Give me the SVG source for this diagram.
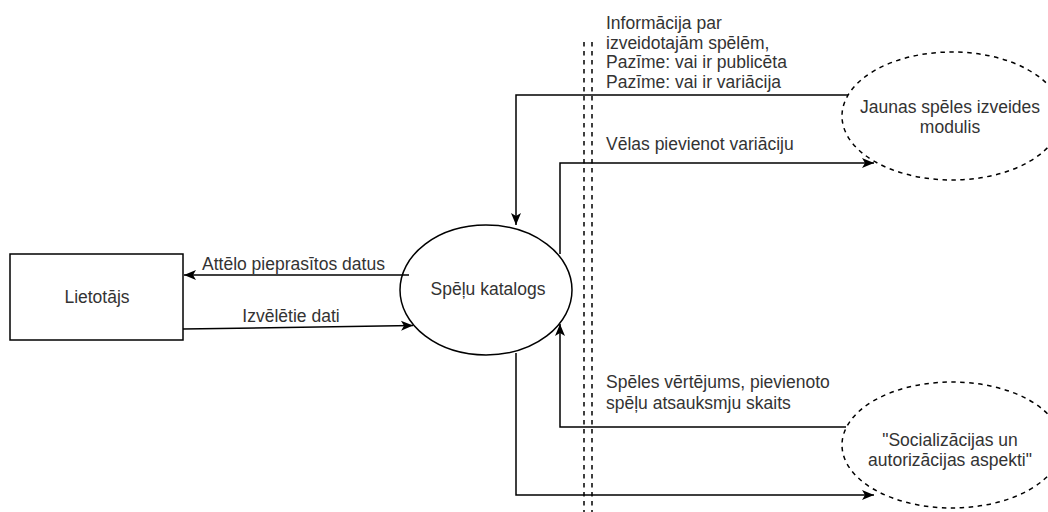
<svg xmlns="http://www.w3.org/2000/svg" width="1048" height="512" viewBox="0 0 1048 512">
<style>
.t{font-family:"Liberation Sans",Arial,sans-serif;font-size:17.5px;fill:#333}
.c{text-anchor:middle}
.n{fill:#fff;stroke:#000;stroke-width:1.5}
.d{stroke-dasharray:4.5 4.5}
.e{fill:none;stroke:#000;stroke-width:1.5}
.v{fill:none;stroke:#000;stroke-width:1.5;stroke-dasharray:4.5 4.5}
</style>
<defs>
<marker id="a" markerUnits="userSpaceOnUse" markerWidth="14" markerHeight="14" viewBox="0 0 14 14" refX="13" refY="7" orient="auto">
<path d="M1,2 L13,7 L1,12 L4,7 Z" fill="#000"/>
</marker>
</defs>
<rect width="1048" height="512" fill="#fff"/>
<g id="boundary">
<line class="v" x1="584" y1="42" x2="584" y2="512"/>
<line class="v" x1="592" y1="42" x2="592" y2="512"/>
</g>
<g id="n-lietotajs">
<rect class="n" x="10" y="254" width="173" height="86"/>
<text class="t c" x="97" y="303">Lietotājs</text>
</g>
<g id="n-katalogs">
<ellipse class="n" cx="486" cy="290" rx="86" ry="65"/>
<text class="t c" x="488" y="295">Spēļu katalogs</text>
</g>
<g id="n-jaunas">
<ellipse class="n d" cx="952" cy="116" rx="110" ry="64"/>
<text class="t c" x="950" y="113">Jaunas spēles izveides</text>
<text class="t c" x="950" y="133">modulis</text>
</g>
<g id="n-social">
<ellipse class="n d" cx="952" cy="445" rx="110" ry="63"/>
<text class="t c" x="950" y="446">"Socializācijas un</text>
<text class="t c" x="950" y="466">autorizācijas aspekti"</text>
</g>
<g id="connectors">
<path class="e" d="M409,275 L184,275" marker-end="url(#a)"/>
<path class="e" d="M183,329 L413,325.5" marker-end="url(#a)"/>
<path class="e" d="M848,95 L516,95 L516,225" marker-end="url(#a)"/>
<path class="e" d="M560,254 L560,163 L874,163" marker-end="url(#a)"/>
<path class="e" d="M846,427 L560,427 L560,324" marker-end="url(#a)"/>
<path class="e" d="M516,353 L516,495 L874,495" marker-end="url(#a)"/>
</g>
<g id="labels">
<text class="t" x="202" y="270">Attēlo pieprasītos datus</text>
<text class="t c" x="291" y="322">Izvēlētie dati</text>
<text class="t" x="606" y="29">Informācija par</text>
<text class="t" x="606" y="48.5">izveidotajām spēlēm,</text>
<text class="t" x="606" y="68">Pazīme: vai ir publicēta</text>
<text class="t" x="606" y="87.5">Pazīme: vai ir variācija</text>
<text class="t" x="606" y="150">Vēlas pievienot variāciju</text>
<text class="t" x="606" y="388">Spēles vērtējums, pievienoto</text>
<text class="t" x="606" y="409">spēļu atsauksmju skaits</text>
</g>
</svg>
